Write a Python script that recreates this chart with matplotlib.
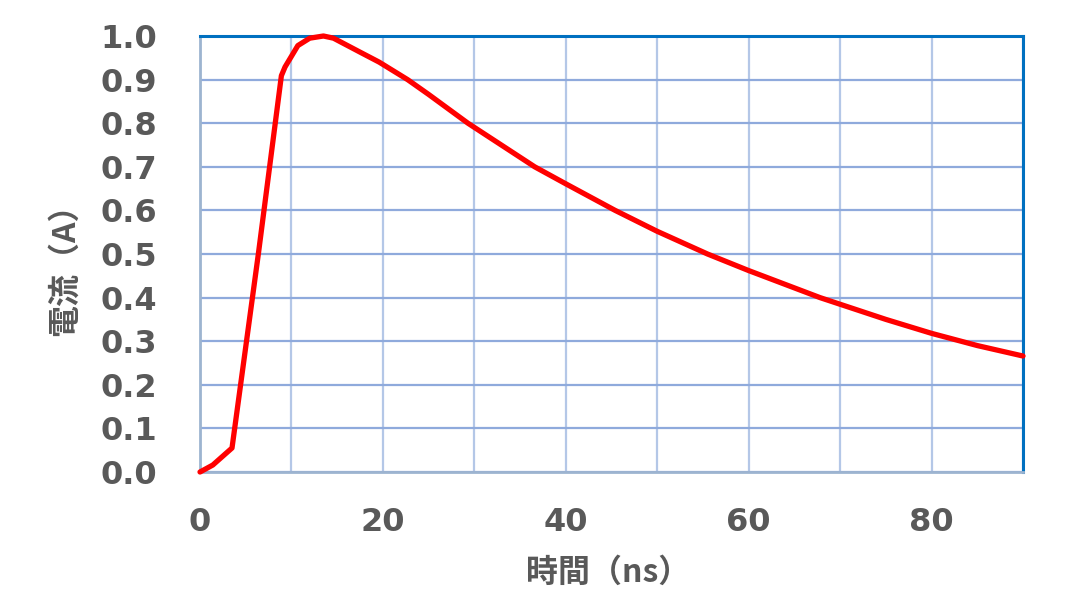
import matplotlib
matplotlib.use("Agg")
import matplotlib.pyplot as plt
from matplotlib.ticker import MultipleLocator

# values
time_ns = [0, 1.4, 3.5, 6.4, 8.9, 9.3, 10.7, 12.0, 13.5, 14.6, 17.5, 19.6,
           22.7, 25.0, 29.3, 36.6, 40.0, 45.4, 50.0, 55.5, 60.0, 67.8, 75.0,
           80.0, 85.0, 90.0]
current_a = [0, 0.016, 0.055, 0.503, 0.909, 0.929, 0.978, 0.995, 1.0, 0.995,
             0.963, 0.94, 0.9, 0.866, 0.8, 0.7, 0.661, 0.6, 0.552, 0.5,
             0.462, 0.4, 0.35, 0.318, 0.29, 0.266]

x_ticks = [0, 20, 40, 60, 80]
y_ticks = [0.0, 0.1, 0.2, 0.3, 0.4, 0.5, 0.6, 0.7, 0.8, 0.9, 1.0]
y_tick_labels = [f"{v:.1f}" for v in y_ticks]

TEXT_COLOR = '#595959'
CJK = ['Noto Sans CJK JP', 'DejaVu Sans']

fig = plt.figure(figsize=(10.8, 5.94), dpi=100)
ax = fig.add_axes([200/1080, 1 - 472/594, 823/1080, 436/594])

ax.plot(time_ns, current_a, color='#FF0000', linewidth=3.8, solid_joinstyle='round',
        solid_capstyle='round', clip_on=False, zorder=5)

ax.set_xlim(0, 90)
ax.set_ylim(0, 1.0)
ax.set_xticks(x_ticks)
ax.set_xticklabels([str(v) for v in x_ticks])
ax.xaxis.set_minor_locator(MultipleLocator(10))
ax.set_yticks(y_ticks)
ax.set_yticklabels(y_tick_labels)

ax.grid(True, which='both', axis='x', color='#B4C7E7', linewidth=1.6)
ax.grid(True, axis='y', color='#8FAADC', linewidth=1.6)
ax.set_axisbelow(True)

ax.tick_params(axis='both', which='both', length=0)
ax.tick_params(axis='x', pad=25)
ax.tick_params(axis='y', pad=31)
for lbl in ax.get_xticklabels() + ax.get_yticklabels():
    lbl.set_fontsize(23)
    lbl.set_fontweight('bold')
    lbl.set_color(TEXT_COLOR)

ax.spines['top'].set_color('#0070C0')
ax.spines['right'].set_color('#0070C0')
ax.spines['top'].set_linewidth(2.2)
ax.spines['right'].set_linewidth(2.2)
ax.spines['left'].set_color('#9DB4D0')
ax.spines['bottom'].set_color('#9DB4D0')
ax.spines['left'].set_linewidth(2.0)
ax.spines['bottom'].set_linewidth(2.0)

fig.text(608/1080, 1 - 573/594, '時間（ns）', family=CJK, fontsize=23, fontweight='bold',
         color=TEXT_COLOR, ha='center', va='center')
fig.text(65/1080, 1 - 262/594, '電流（A）', family=CJK, fontsize=23, fontweight='bold',
         color=TEXT_COLOR, ha='center', va='center', rotation=90)

fig.savefig('out.png', dpi=100)
